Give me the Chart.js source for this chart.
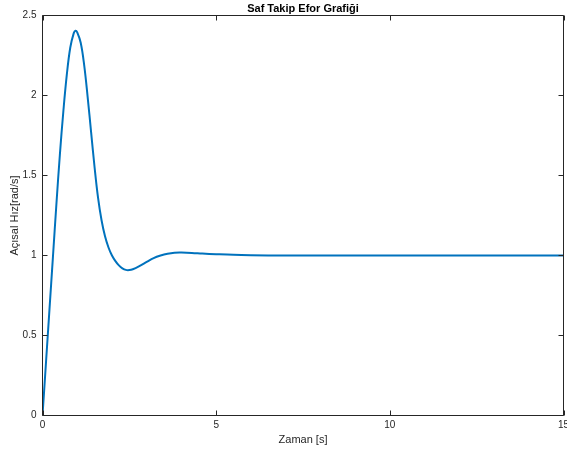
<!DOCTYPE html>
<html><head><meta charset="utf-8">
<script src="https://cdn.jsdelivr.net/npm/chart.js@4"></script>
<style>html,body{margin:0;padding:0;background:#fff;overflow:hidden}</style>
</head><body>
<canvas id="c" width="567" height="452"></canvas>
<script>
const time = [0,0.1,0.2,0.3,0.4,0.5,0.6,0.7,0.8,0.9,0.95,1.0,1.1,1.2,1.3,1.4,1.5,1.6,1.7,1.8,1.9,2.0,2.1,2.2,2.3,2.4,2.5,2.6,2.8,3.0,3.2,3.4,3.6,3.8,4.0,4.3,4.6,5.0,5.5,6,7,8,10,12,15];
const angularVelocity = [0,0.33,0.66,0.99,1.32,1.63,1.90,2.13,2.30,2.39,2.405,2.395,2.33,2.19,1.99,1.77,1.55,1.36,1.22,1.12,1.05,1.0,0.965,0.938,0.92,0.91,0.909,0.914,0.935,0.96,0.984,1.0,1.011,1.017,1.018,1.016,1.012,1.008,1.004,1.002,1.0,1.0,1.0,1.0,1.0];
const xTicks = [0,5,10,15];
const yTicks = [0,0.5,1,1.5,2,2.5];
const titleText = 'Saf Takip Efor Grafiği';
const xLabel = 'Zaman [s]';
const yLabel = 'Açısal Hız[rad/s]';

const points = time.map((t,i)=>({x:t, y:angularVelocity[i]}));
const axisColor = '#262626';
const fontFam = "'Liberation Sans', Arial, Helvetica, sans-serif";

const boxPlugin = {
  id:'matlabBox',
  afterDatasetsDraw(chart){
    const {ctx, chartArea:{left,right,top,bottom}, scales:{x,y}} = chart;
    ctx.save();
    ctx.strokeStyle = axisColor;
    ctx.lineWidth = 1;
    ctx.beginPath();
    ctx.rect(left, top, right-left, bottom-top);
    ctx.stroke();
    const L = 5;
    ctx.beginPath();
    xTicks.forEach(v=>{
      const px = Math.round(x.getPixelForValue(v))+0.5;
      ctx.moveTo(px, bottom); ctx.lineTo(px, bottom-L);
      ctx.moveTo(px, top); ctx.lineTo(px, top+L);
    });
    yTicks.forEach(v=>{
      const py = Math.round(y.getPixelForValue(v)-0.5)+0.5;
      ctx.moveTo(left, py); ctx.lineTo(left+L, py);
      ctx.moveTo(right, py); ctx.lineTo(right-L, py);
    });
    ctx.stroke();
    ctx.restore();
  }
};

new Chart(document.getElementById('c'), {
  type:'line',
  data:{datasets:[{data:points, borderColor:'#0072BD', borderWidth:2, pointRadius:0, fill:false, tension:0.4}]},
  options:{
    responsive:false, devicePixelRatio:1, animation:false,
    layout:{padding:{left:0,right:3.5,top:0,bottom:0}},
    plugins:{
      legend:{display:false}, tooltip:{enabled:false},
      title:{display:true, text:titleText, fullSize:false, color:'#000',
        font:{family:fontFam, size:11, weight:'bold'}, padding:{top:2,bottom:0.3}}
    },
    scales:{
      x:{type:'linear', min:0, max:15,
        grid:{display:false, drawTicks:false}, border:{display:false},
        afterBuildTicks(s){ s.ticks = xTicks.map(v=>({value:v})); },
        afterFit(s){ s.height = 36.5; s.paddingLeft=0; s.paddingRight=0; },
        ticks:{autoSkip:false, maxRotation:0, padding:4, color:axisColor, font:{family:fontFam,size:10}, callback:v=>String(v)},
        title:{display:true, text:xLabel, color:axisColor, font:{family:fontFam,size:11}, padding:{top:0,bottom:5}}
      },
      y:{type:'linear', min:0, max:2.5,
        grid:{display:false, drawTicks:false}, border:{display:false},
        afterBuildTicks(s){ s.ticks = yTicks.map(v=>({value:v})); },
        afterFit(s){ s.width = 42.5; s.paddingTop=0; s.paddingBottom=0; },
        ticks:{autoSkip:false, padding:6, color:axisColor, font:{family:fontFam,size:10}, callback:v=>String(v)},
        title:{display:true, text:yLabel, color:axisColor, font:{family:fontFam,size:11}, padding:{top:8,bottom:0}}
      }
    }
  },
  plugins:[boxPlugin]
});
</script>
</body></html>
